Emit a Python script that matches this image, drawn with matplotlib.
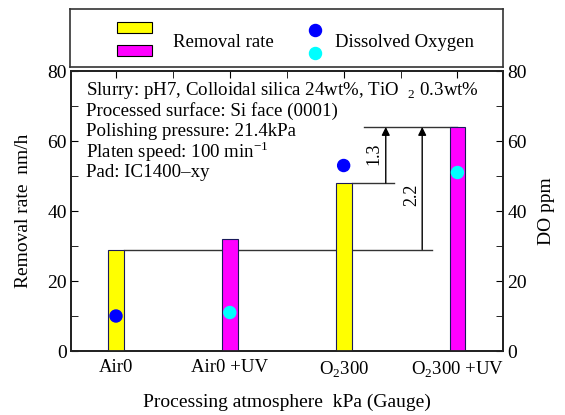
import matplotlib.pyplot as plt
from matplotlib.patches import Rectangle
import numpy as np

plt.rcParams['font.family'] = ['Liberation Serif', 'DejaVu Serif']
plt.rcParams['mathtext.fontset'] = 'custom'
plt.rcParams['mathtext.rm'] = 'Liberation Serif'

categories = ['Air0', 'Air0 +UV', r'O$_2$300', r'O$_2$300 +UV']
removal_rate = [29, 32, 48, 64]
dissolved_oxygen = [10, 11, 53, 51]
bar_colors = ['#ffff00', '#ff00ff', '#ffff00', '#ff00ff']
dot_colors = ['#0000ff', '#00ffff', '#0000ff', '#00ffff']
info_lines = ['Slurry: pH7, Colloidal silica 24wt%, TiO  $_{2}$ 0.3wt%',
              'Processed surface: Si face (0001)',
              'Polishing pressure: 21.4kPa',
              'Platen speed: 100 min$^{-1}$',
              'Pad: IC1400\u2013xy']

x = np.arange(len(categories))

fig = plt.figure(figsize=(5.65, 4.15), dpi=100)
ax = fig.add_axes([0.1257, 0.1542, 0.7646, 0.6747])
ax2 = ax.twinx()

ax.bar(x, removal_rate, width=0.14, color=bar_colors, edgecolor='#1a1a5a', linewidth=0.8, zorder=3)
ax2.scatter(x, dissolved_oxygen, s=75, c=dot_colors, zorder=4)

ax.set_xlim(-0.395, 3.4)
ax.set_ylim(0, 80)
ax2.set_ylim(0, 80)

# reference lines and arrows
lc = '#333333'
ax.plot([0.07, 2.78], [removal_rate[0]] * 2, color=lc, lw=1)
ax.plot([2.07, 2.44], [removal_rate[2]] * 2, color=lc, lw=1)
ax.plot([2.175, 3.0], [removal_rate[3]] * 2, color=lc, lw=1)
ax.annotate('', xy=(2.37, removal_rate[3]), xytext=(2.37, removal_rate[2]),
            arrowprops=dict(arrowstyle='-|>', color='black', lw=1, mutation_scale=12, shrinkA=0, shrinkB=0))
ax.annotate('', xy=(2.69, removal_rate[3]), xytext=(2.69, removal_rate[0]),
            arrowprops=dict(arrowstyle='-|>', color='black', lw=1, mutation_scale=12, shrinkA=0, shrinkB=0))
ax.text(2.27, 56.5, '1.3', rotation=90, ha='center', va='center', fontsize=13)
ax.text(2.6, 44.5, '2.2', rotation=90, ha='center', va='center', fontsize=13)

for i, line in enumerate(info_lines):
    ax.text(0.035, 0.929 - i * 0.0725, line, transform=ax.transAxes, ha='left', va='center',
            fontsize=13.6)

ax.set_xticks(x)
ax.set_xticklabels(categories, fontsize=13.5)
ax.set_xticks(np.arange(0.5, 3, 1), minor=True)
ax.tick_params(axis='x', which='both', bottom=False, top=True, direction='in', length=5, pad=6)
ax.set_yticks(np.arange(0, 81, 20))
ax.set_yticks(np.arange(0, 81, 10), minor=True)
ax.tick_params(axis='y', which='both', direction='in', length=5, labelsize=14, pad=3)
ax2.set_yticks(np.arange(0, 81, 20))
ax2.set_yticks(np.arange(0, 81, 10), minor=True)
ax2.tick_params(axis='y', which='both', direction='in', length=5, labelsize=14, pad=3)

ax.set_xlabel('Processing atmosphere  kPa (Gauge)', fontsize=14, labelpad=10)
ax.set_ylabel('Removal rate  nm/h', fontsize=14, labelpad=11)
ax2.set_ylabel('DO ppm', fontsize=14, labelpad=8)

for a in (ax, ax2):
    for s in a.spines.values():
        s.set_linewidth(1.3)
        s.set_color('#222222')

# legend box
lg = fig.add_axes([0.124, 0.8386, 0.766, 0.1398])
lg.set_xlim(0, 1)
lg.set_ylim(0, 1)
lg.set_xticks([])
lg.set_yticks([])
for s in lg.spines.values():
    s.set_linewidth(1.2)
    s.set_color('#333333')
lg.add_patch(Rectangle((0.108, 0.58), 0.082, 0.19, facecolor=bar_colors[0], edgecolor='black', lw=0.8))
lg.add_patch(Rectangle((0.108, 0.19), 0.082, 0.19, facecolor=bar_colors[1], edgecolor='black', lw=0.8))
lg.text(0.237, 0.43, 'Removal rate', fontsize=13.5, va='center')
lg.scatter([0.565], [0.64], s=75, c=dot_colors[0])
lg.scatter([0.565], [0.24], s=75, c=dot_colors[1])
lg.text(0.612, 0.43, 'Dissolved Oxygen', fontsize=13.5, va='center')

fig.savefig('out.png', dpi=100)
